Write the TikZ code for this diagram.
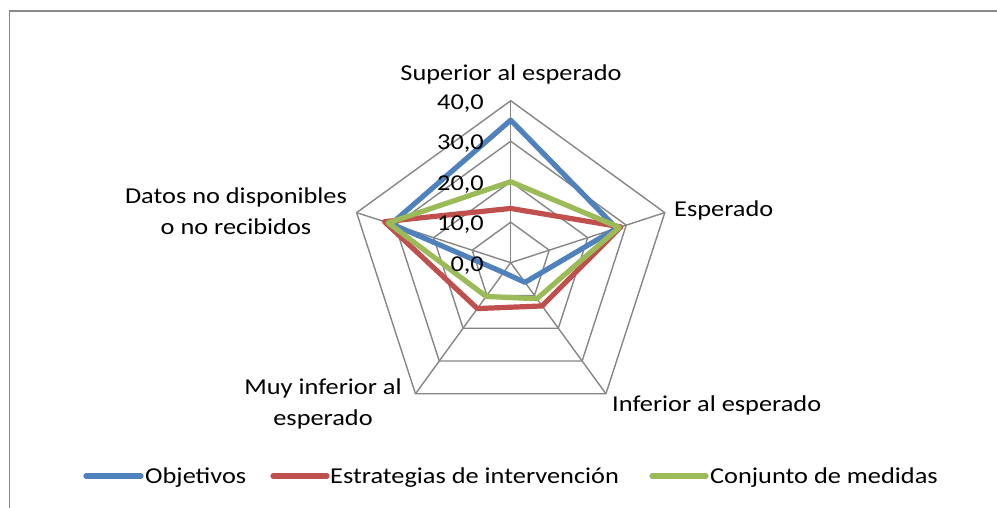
\documentclass[tikz,border=0pt]{standalone}
\usepackage{fontspec}
\setmainfont[FakeStretch=1.16]{Carlito}
\begin{document}
\begin{tikzpicture}[x=1pt,y=-1pt,
  grid/.style={draw=gridgray,line width=1.4pt},
  ser/.style={line width=5.2pt,line join=round,line cap=round},
  lab/.style={inner sep=0pt,font=\fontsize{22.7}{30.5}\selectfont},
  leg/.style={line width=5.2pt,line cap=round}]
\definecolor{gridgray}{HTML}{868686}
\definecolor{frame}{HTML}{898989}
\definecolor{serblue}{HTML}{4F81BD}
\definecolor{serred}{HTML}{C0504D}
\definecolor{sergreen}{HTML}{9BBB59}
\useasboundingbox (0,0) rectangle (997,508);
\draw[frame,line width=1.5pt] (9.5,508) -- (9.5,11) -- (997,11);
% chart in data units (1 unit = 4.05 px)
\begin{scope}[shift={(510.7,262.7)},x=4.05pt,y=4.05pt]
  \coordinate (c) at (0,0);
  \foreach \r in {10,20,30,40}
    \draw[grid] (90:\r) -- (18:\r) -- (-54:\r) -- (-126:\r) -- (162:\r) -- cycle;
  \foreach \a in {90,18,-54,-126,162}
    \draw[grid] (c) -- (\a:40);
  \draw[ser,serblue]  (90:35.2) -- (18:27.5) -- (-54:6) -- (-126:3) -- (162:31) -- cycle;
  \draw[ser,serred]   (90:13.4) -- (18:28.6) -- (-54:13.2) -- (-126:14) -- (162:32.8) -- cycle;
  \draw[ser,sergreen] (90:20) -- (18:28.2) -- (-54:11) -- (-126:10.3) -- (162:31.8) -- cycle;
\end{scope}
% tick labels
\node[lab,anchor=base east] (t0) at (484,271.2) {0,0};
\node[lab,anchor=base east] (t1) at (484,230.7) {10,0};
\node[lab,anchor=base east] (t2) at (484,190.2) {20,0};
\node[lab,anchor=base east] (t3) at (484,149.7) {30,0};
\node[lab,anchor=base east] (t4) at (484,109.2) {40,0};
% axis labels
\node[lab,anchor=base] (sup) at (511,81) {Superior al esperado};
\node[lab,anchor=base west] (esp) at (674,217) {Esperado};
\node[lab,anchor=base west] (inf) at (612,411) {Inferior al esperado};
\node[lab,anchor=base,align=center] (muy) at (323,425) {Muy inferior al\\esperado};
\node[lab,anchor=base,align=center] (dat) at (236,234) {Datos no disponibles\\o no recibidos};
% legend
\coordinate (b1) at (86,476); \coordinate (b2) at (141,476);
\coordinate (r1) at (273,476); \coordinate (r2) at (327,476);
\coordinate (g1) at (652,476); \coordinate (g2) at (706,476);
\draw[leg,serblue] (b1) -- (b2);
\draw[leg,serred] (r1) -- (r2);
\draw[leg,sergreen] (g1) -- (g2);
\node[lab,anchor=base west] (lb) at (145,483.5) {Objetivos};
\node[lab,anchor=base west] (lr) at (330,483.5) {Estrategias de intervención};
\node[lab,anchor=base west] (lg) at (710,483.5) {Conjunto de medidas};
\end{tikzpicture}
\end{document}
